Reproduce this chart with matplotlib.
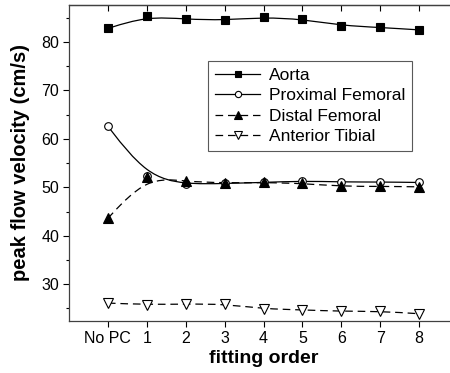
import matplotlib
matplotlib.use("Agg")
import matplotlib.pyplot as plt
import numpy as np
from matplotlib.path import Path
from matplotlib.patches import PathPatch

plt.rcParams['font.family'] = ['Liberation Sans', 'DejaVu Sans']
plt.rcParams['lines.scale_dashes'] = False

# dados
ordens = [0, 1, 2, 3, 4, 5, 6, 7, 8]
rotulos_x = ['No PC', '1', '2', '3', '4', '5', '6', '7', '8']

aorta = [82.8, 85.3, 84.7, 84.5, 85.1, 84.7, 83.4, 83.0, 82.5]
femoral_proximal = [62.6, 52.3, 50.6, 50.8, 51.0, 51.3, 51.1, 51.1, 51.0]
femoral_distal = [43.6, 52.2, 51.2, 50.9, 51.0, 50.8, 50.2, 50.2, 50.1]
tibial_anterior = [26.1, 25.8, 25.9, 25.9, 24.9, 24.7, 24.4, 24.4, 23.9]

nomes = ['Aorta', 'Proximal Femoral', 'Distal Femoral', 'Anterior Tibial']
series = [aorta, femoral_proximal, femoral_distal, tibial_anterior]

TRACO = (0, (5.5, 3.5))
estilos = [
    dict(ls='-', marker='s', ms=5.5, mfc='black'),
    dict(ls='-', marker='o', ms=5.5, mfc='white'),
    dict(ls=TRACO, marker='^', ms=6.5, mfc='black'),
    dict(ls=TRACO, marker='v', ms=6.5, mfc='white'),
]


def caminho_bspline(xs, ys):
    # B-spline cúbica uniforme (pontas fixas), como o "B-Spline" do Origin
    P = np.column_stack([xs, ys]).astype(float)
    P = np.vstack([P[0], P[0], P, P[-1], P[-1]])
    verts, codes = [], []
    for i in range(len(P) - 3):
        p0, p1, p2, p3 = P[i:i + 4]
        b0 = (p0 + 4 * p1 + p2) / 6
        b1 = (2 * p1 + p2) / 3
        b2 = (p1 + 2 * p2) / 3
        b3 = (p1 + 4 * p2 + p3) / 6
        if i == 0:
            verts.append(b0)
            codes.append(Path.MOVETO)
        verts += [b1, b2, b3]
        codes += [Path.CURVE4] * 3
    return Path(verts, codes)


fig = plt.figure(figsize=(4.5, 3.73), dpi=100)
ax = fig.add_axes([69 / 450, 52 / 373, 389 / 450, 316.3 / 373])

alcas = []
for nome, valores, est in zip(nomes, series, estilos):
    ax.add_patch(PathPatch(caminho_bspline(ordens, valores), fill=False,
                           edgecolor='black', lw=0.9, linestyle=est['ls'],
                           zorder=2))
    ax.plot(ordens, valores, ls='none', marker=est['marker'], ms=est['ms'],
            mfc=est['mfc'], mec='black', mew=0.8, zorder=3)
    h, = ax.plot([], [], color='black', lw=0.9, ls=est['ls'],
                 marker=est['marker'], ms=est['ms'] - 1, mfc=est['mfc'],
                 mec='black', mew=0.8, label=nome)
    alcas.append(h)

ax.set_xlim(-1, 9)
ax.set_ylim(22.4, 87.7)
ax.set_xticks(ordens)
ax.set_xticklabels(rotulos_x)
ax.set_yticks([30, 40, 50, 60, 70, 80])
ax.set_yticks([25, 35, 45, 55, 65, 75, 85], minor=True)
ax.tick_params(axis='both', which='major', direction='out', length=4,
               width=0.8, labelsize=11.5, pad=3)
ax.tick_params(axis='y', which='minor', direction='out', length=2.5, width=0.8)
ax.spines['right'].set_visible(False)
for s in ['left', 'bottom', 'top']:
    ax.spines[s].set_linewidth(0.9)
    ax.spines[s].set_color('0.25')

topo = ax.secondary_xaxis('top')
topo.set_xticks(ordens)
topo.tick_params(direction='in', length=4, width=0.8, labeltop=False)
topo.spines['top'].set_linewidth(0.9)
topo.spines['top'].set_color('0.25')

ax.set_xlabel('fitting order', fontsize=14, fontweight='bold', labelpad=3)
ax.set_ylabel('peak flow velocity (cm/s)', fontsize=14.5, fontweight='bold',
              labelpad=8)

leg = ax.legend(handles=alcas, loc='upper left',
                bbox_to_anchor=((208 - 69) / 389, (321 - 61) / 316.3),
                borderaxespad=0, fontsize=12.5, handlelength=2.6,
                handletextpad=0.5, labelspacing=0.3, borderpad=0.4,
                fancybox=False, framealpha=1, edgecolor='0.35')
leg.get_frame().set_linewidth(0.8)

fig.savefig('out.png', dpi=100)
